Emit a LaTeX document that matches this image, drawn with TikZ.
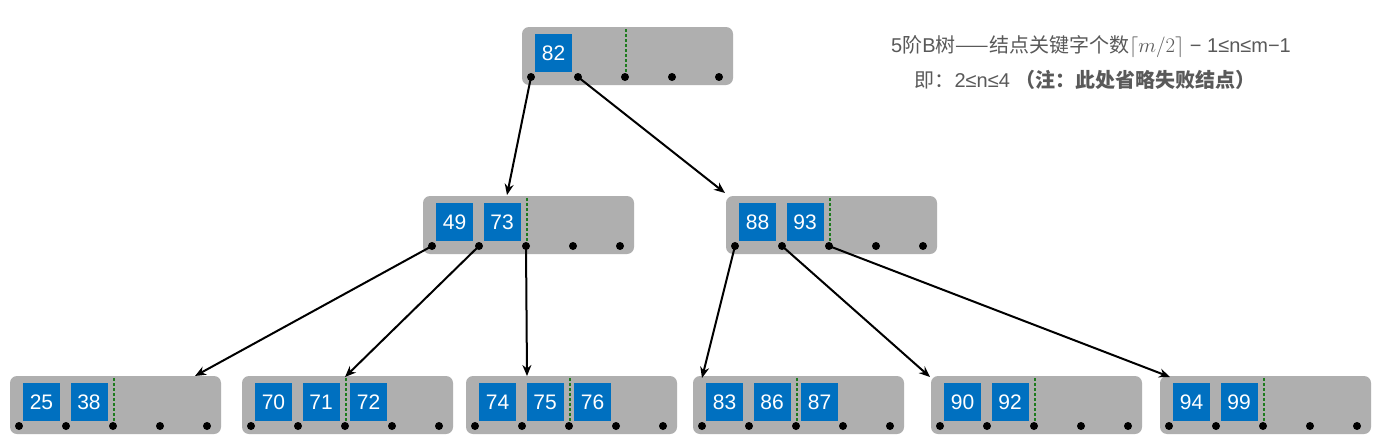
\documentclass[tikz,border=0pt]{standalone}
\usepackage{fontspec}
\setmainfont{Liberation Sans}
\newfontfamily\cjk{Noto Sans CJK SC}
\usetikzlibrary{arrows.meta}
\definecolor{keyblue}{HTML}{0070C0}
\definecolor{boxgray}{HTML}{AFAFAF}
\definecolor{dashgreen}{HTML}{1E7B1E}
\definecolor{txtgray}{HTML}{595959}
\tikzset{
  box/.style={draw=none,fill=boxgray,rounded corners=7pt,minimum width=211pt,minimum height=58pt,inner sep=0},
  dot/.style={circle,fill=black,inner sep=0,minimum size=8pt},
  key/.style={fill=keyblue,text=white,minimum width=37pt,minimum height=38pt,inner sep=0,font=\fontsize{21}{21}\selectfont},
  gdash/.style={draw=dashgreen,line width=2.5pt,dash pattern=on 3pt off 2pt},
  edge/.style={draw=black,line width=2pt,-{Stealth[length=11pt,width=9pt]}},
}
\newcommand\btn[4]{%
  \node[box] (#1) at (#2+105.5,#3+29) {};
  \draw[gdash] (#2+104,#3+2) -- (#2+104,#3+46);
  \foreach \k [count=\j from 0] in {#4} \node[key] (#1k\j) at (#2+31.5+47.5*\j,#3+26) {\k};
  \foreach \i in {0,...,4} \node[dot] (#1d\i) at (#2+9+47*\i,#3+50) {};
}
\begin{document}
\begin{tikzpicture}[x=1pt,y=-1pt]
\useasboundingbox[fill=white] (0,0) rectangle (1395,447);
\btn{R}{522}{27}{82}
\btn{A}{423}{196}{49,73}
\btn{B}{726}{196}{88,93}
\btn{C}{10}{376}{25,38}
\btn{D}{242}{376}{70,71,72}
\btn{E}{466}{376}{74,75,76}
\btn{F}{693}{376}{83,86,87}
\btn{G}{931}{376}{90,92}
\btn{H}{1160}{376}{94,99}
\coordinate (tA) at (507,195);
\coordinate (tB) at (725,193);
\coordinate (tC) at (195,376);
\coordinate (tD) at (345,377);
\coordinate (tE) at (527,376);
\coordinate (tF) at (702,378);
\coordinate (tG) at (930,377);
\coordinate (tH) at (1170,377);
\draw[edge] (Rd0.center) -- (tA);
\draw[edge] (Rd1.center) -- (tB);
\draw[edge] (Ad0.center) -- (tC);
\draw[edge] (Ad1.center) -- (tD);
\draw[edge] (Ad2.center) -- (tE);
\draw[edge] (Bd0.center) -- (tF);
\draw[edge] (Bd1.center) -- (tG);
\draw[edge] (Bd2.center) -- (tH);
\node[text=txtgray,font=\fontsize{20}{20}\selectfont,inner sep=0] (t1) at (1091,47) {5{\cjk 阶}B{\cjk 树——结点关键字个数}$\lceil m/2\rceil$ − 1≤n≤m−1};
\node[text=txtgray,font=\fontsize{20}{20}\selectfont,inner sep=0] (t2) at (1085,80) {{\cjk 即：}2≤n≤4 \textbf{{\cjk （注：此处省略失败结点）}}};
\end{tikzpicture}
\end{document}
